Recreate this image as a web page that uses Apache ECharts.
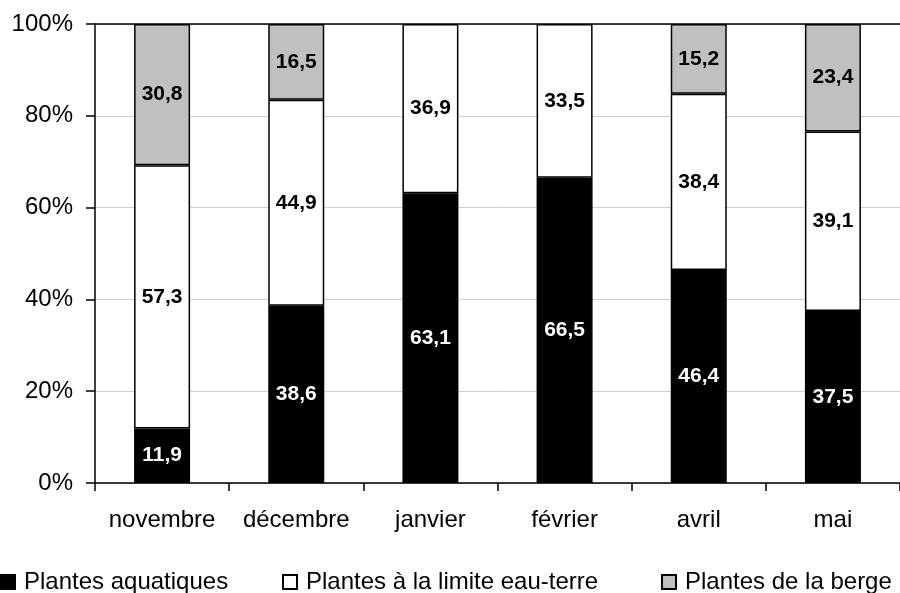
<!DOCTYPE html>
<html>
<head>
<meta charset="utf-8">
<script src="https://cdn.jsdelivr.net/npm/echarts@6/dist/echarts.min.js"></script>
<style>
  html, body { margin: 0; padding: 0; background: #fff; }
  #chart { width: 900px; height: 593px; }
</style>
</head>
<body>
<div id="chart"></div>
<script>
// Months of sampling
const categories = ['novembre', 'décembre', 'janvier', 'février', 'avril', 'mai'];
// Share (%) of each plant group per month
const aquatiques = [11.9, 38.6, 63.1, 66.5, 46.4, 37.5];
const limite = [57.3, 44.9, 36.9, 33.5, 38.4, 39.1];
const berge = [30.8, 16.5, null, null, 15.2, 23.4];
const seriesNames = ['Plantes aquatiques', 'Plantes à la limite eau-terre', 'Plantes de la berge'];
const yTicks = [0, 20, 40, 60, 80, 100];

const FONT = 'Arial, "Liberation Sans", sans-serif';
const fmt = v => (v == null ? '' : v.toFixed(1).replace('.', ','));

function barSeries(name, data, fill, labelColor) {
  return {
    name: name,
    type: 'bar',
    stack: 'total',
    barWidth: 56,
    data: data,
    itemStyle: { color: fill, borderColor: '#000', borderWidth: 1.5 },
    label: {
      show: true,
      position: 'inside',
      color: labelColor,
      fontFamily: FONT,
      fontWeight: 'bold',
      fontSize: 21,
      formatter: p => fmt(p.value)
    },
    emphasis: { disabled: true }
  };
}

function legendAt(name, left) {
  return {
    data: [name],
    left: left,
    top: 570,
    padding: 0,
    icon: 'rect',
    itemWidth: 14,
    itemHeight: 14,
    selectedMode: false,
    textStyle: {
      fontFamily: FONT, fontSize: 24, color: '#000', lineHeight: 22,
      padding: [0, 0, 0, 4]
    }
  };
}

const chart = echarts.init(document.getElementById('chart'), null, { renderer: 'canvas' });
chart.setOption({
  animation: false,
  backgroundColor: '#fff',
  grid: { left: 95, top: 24, width: 814, height: 459, containLabel: false },
  legend: [
    legendAt(seriesNames[0], 0),
    legendAt(seriesNames[1], 282),
    legendAt(seriesNames[2], 661)
  ],
  xAxis: [{
    type: 'category',
    data: categories,
    boundaryGap: true,
    axisLine: { show: true, lineStyle: { color: '#000', width: 1.5 } },
    axisTick: { show: true, interval: 0, length: 8, lineStyle: { color: '#000', width: 1.5 } },
    axisLabel: { interval: 0, hideOverlap: false, fontFamily: FONT, fontSize: 24, color: '#000', margin: 25 },
    splitLine: { show: false }
  }, {
    type: 'category',
    data: categories,
    position: 'top',
    axisLine: { show: true, lineStyle: { color: '#000', width: 1.5 } },
    axisTick: { show: false },
    axisLabel: { show: false }
  }],
  yAxis: {
    type: 'value',
    min: yTicks[0],
    max: yTicks[yTicks.length - 1],
    interval: 20,
    axisLine: { show: true, lineStyle: { color: '#000', width: 1.5 } },
    axisTick: { show: true, length: 9, lineStyle: { color: '#000', width: 1.5 } },
    axisLabel: {
      fontFamily: FONT, fontSize: 24, color: '#000', margin: 22,
      formatter: v => v + '%'
    },
    splitLine: { show: true, lineStyle: { color: '#cfcfcf', width: 1 } }
  },
  series: [
    barSeries(seriesNames[0], aquatiques, '#000000', '#ffffff'),
    barSeries(seriesNames[1], limite, '#ffffff', '#000000'),
    barSeries(seriesNames[2], berge, '#c0c0c0', '#000000')
  ]
});
</script>
</body>
</html>
